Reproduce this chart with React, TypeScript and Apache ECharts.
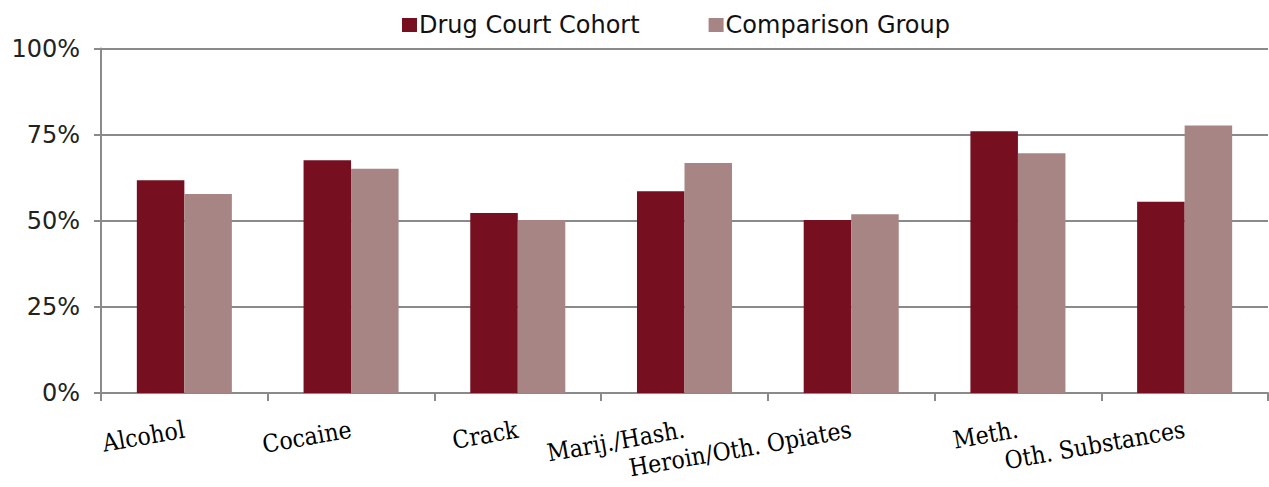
import React, { useEffect, useRef } from "react";
import * as echarts from "echarts";

const categories = [
  "Alcohol",
  "Cocaine",
  "Crack",
  "Marij./Hash.",
  "Heroin/Oth. Opiates",
  "Meth.",
  "Oth. Substances",
];
const drugCourtCohort = [61.8, 67.6, 52.3, 58.6, 50.2, 76.0, 55.5];
const comparisonGroup = [57.8, 65.1, 50.2, 66.8, 51.9, 69.6, 77.7];
const yTicks = [0, 25, 50, 75, 100];

export default function App() {
  const ref = useRef<HTMLDivElement>(null);
  useEffect(() => {
    if (!ref.current) return;
    const chart = echarts.init(ref.current, undefined, { renderer: "svg" });
    const grid = "#8a8a8a";
    chart.setOption({
      animation: false,
      legend: {
        top: 8,
        left: 397,
        itemWidth: 15,
        itemHeight: 14,
        itemGap: 69,
        icon: "rect",
        textStyle: { fontFamily: "DejaVu Sans", fontSize: 24, color: "#111", padding: [0, 0, 0, -3] },
        data: ["Drug Court Cohort", "Comparison Group"],
      },
      grid: { left: 101, right: 1, top: 48.6, bottom: 94, containLabel: false },
      xAxis: {
        type: "category",
        data: categories,
        boundaryGap: true,
        axisLine: { lineStyle: { color: grid, width: 2 } },
        axisTick: { show: true, length: 8, lineStyle: { color: grid, width: 2 }, interval: 0 },
        axisLabel: {
          interval: 0,
          rotate: 10,
          margin: 36,
          fontFamily: "DejaVu Serif Condensed",
          fontSize: 24.5,
          color: "#000",
        },
      },
      yAxis: {
        type: "value",
        min: yTicks[0],
        max: yTicks[yTicks.length - 1],
        interval: 25,
        axisLine: { show: true, lineStyle: { color: grid, width: 2 } },
        axisTick: { show: true, length: 7, lineStyle: { color: grid, width: 2 } },
        splitLine: { show: true, lineStyle: { color: grid, width: 2 } },
        axisLabel: {
          margin: 21,
          formatter: "{value}%",
          fontFamily: "DejaVu Sans",
          fontSize: 24,
          color: "#222",
        },
      },
      series: [
        {
          name: "Drug Court Cohort",
          type: "bar",
          data: drugCourtCohort,
          barGap: "0%",
          barCategoryGap: "43%",
          itemStyle: { color: "#760F20" },
        },
        {
          name: "Comparison Group",
          type: "bar",
          data: comparisonGroup,
          itemStyle: { color: "#A88585" },
        },
      ],
    });
    return () => chart.dispose();
  }, []);
  return (
    <div
      ref={ref}
      style={{ position: "fixed", left: 0, top: 0, width: 1269, height: 487, background: "#fff" }}
    />
  );
}
